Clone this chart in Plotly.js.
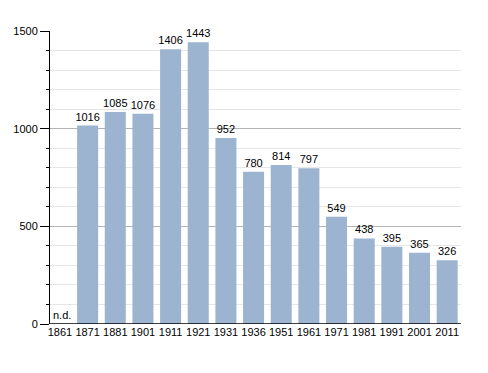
<!DOCTYPE html>
<html><head><meta charset="utf-8">
<script src="https://cdn.plot.ly/plotly-3.0.1.min.js"></script>
<style>body{margin:0;background:#fff}#c{width:488px;height:373px}</style>
</head><body><div id="c"></div>
<script>
const years = ["1861","1871","1881","1901","1911","1921","1931","1936","1951","1961","1971","1981","1991","2001","2011"];
const population = [null,1016,1085,1076,1406,1443,952,780,814,797,549,438,395,365,326];
const labels = population.map(v => v === null ? "" : String(v));
const missingLabel = "n.d.";

const trace = {
  type: "bar",
  x: years,
  y: population,
  text: labels,
  textposition: "outside",
  cliponaxis: false,
  textfont: {family: "Liberation Sans, Arial, sans-serif", size: 11, color: "#000"},
  marker: {color: "#9db4d1", line: {width: 0}},
  hoverinfo: "x+y"
};

const layout = {
  width: 488, height: 373,
  margin: {l: 50, r: 27, t: 31, b: 49},
  paper_bgcolor: "#fff", plot_bgcolor: "#fff",
  bargap: 0.24,
  uniformtext: {minsize: 11, mode: "show"},
  showlegend: false,
  font: {family: "Liberation Sans, Arial, sans-serif", size: 11, color: "#000"},
  xaxis: {
    type: "category",
    categoryorder: "array", categoryarray: years,
    range: [-0.36, years.length - 0.5],
    showgrid: false, zeroline: false, showline: false,
    ticks: "", tickfont: {size: 11, color: "#000"}, tickangle: 0
  },
  yaxis: {
    range: [0, 1500], dtick: 500, tick0: 0,
    showgrid: true, gridcolor: "#b4b4b4", gridwidth: 1,
    zeroline: false,
    showline: true, linecolor: "#000", linewidth: 1,
    ticks: "outside", ticklen: 9, tickcolor: "#000", tickwidth: 1,
    tickfont: {size: 11, color: "#000"},
    minor: {dtick: 100, showgrid: true, gridcolor: "#e6e6e6", gridwidth: 1, ticks: "outside", ticklen: 3, tickcolor: "#000"}
  },
  shapes: [
    {type: "line", xref: "paper", yref: "y", x0: 0, x1: 1, y0: 0, y1: 0, line: {color: "#000", width: 1.5}}
  ],
  annotations: [
    {x: 0, y: 0, xref: "paper", yref: "y", text: missingLabel, showarrow: false, yanchor: "bottom", xanchor: "left", xshift: 1, yshift: 1, font: {size: 11, color: "#000"}}
  ]
};

Plotly.newPlot("c", [trace], layout, {displayModeBar: false, staticPlot: true});
</script>
</body></html>
